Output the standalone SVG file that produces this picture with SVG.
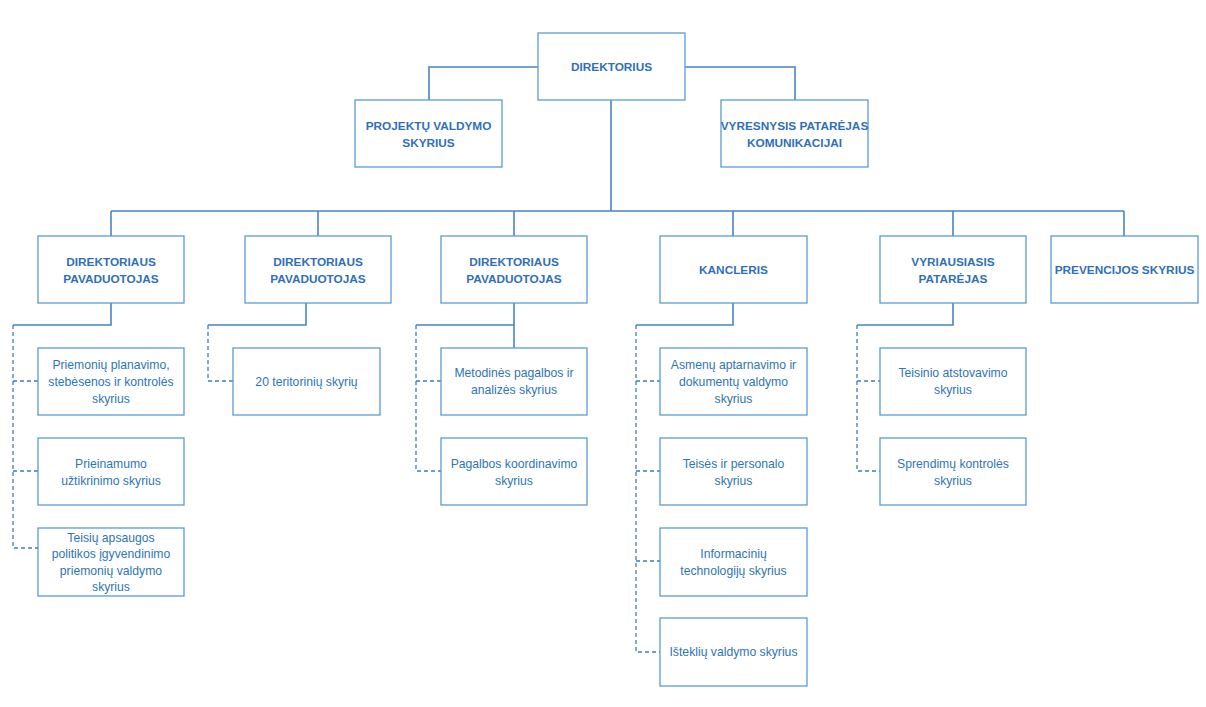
<svg xmlns="http://www.w3.org/2000/svg" width="1206" height="707" viewBox="0 0 1206 707">
<style>
.box{fill:#fff;stroke:#5b9bd5;stroke-width:1.3}
.t{font-family:"Liberation Sans",Arial,sans-serif;font-size:12.2px;fill:#2e75b6;text-anchor:middle}
.b{font-weight:bold;font-size:11.8px;fill:#2f6fb8}
.s{fill:none;stroke:#4a84c4;stroke-width:1.6}
.d{fill:none;stroke:#3f7bc0;stroke-width:1.3;stroke-dasharray:4 3}
</style>
<rect width="1206" height="707" fill="#fff"/>
<g id="connectors">
<path class="s" d="M538 67H429V100M685 67H795V100"/>
<path class="s" d="M611 100V211" stroke-width="2.2"/>
<path class="s" d="M111 211H1124M111 211V236M318 211V236M514 211V236M733 211V236M953 211V236M1124 211V236"/>
<path class="s" d="M111 303V325H13"/>
<path class="d" d="M13 325V548H38M13 381H38M13 471H38"/>
<path class="s" d="M306 303V325H208"/>
<path class="d" d="M208 325V381H233"/>
<path class="s" d="M514 303V348M514 325H416"/>
<path class="d" d="M416 325V471H441M416 381H441"/>
<path class="s" d="M733 303V325H636"/>
<path class="d" d="M636 325V652H660M636 381H660M636 471H660M636 561H660"/>
<path class="s" d="M953 303V325H857"/>
<path class="d" d="M857 325V471H880M857 381H880"/>
</g>
<g id="direktorius"><rect class="box" x="538" y="33" width="147" height="67"/><text class="t b" x="611.5" y="71">DIREKTORIUS</text></g>
<g id="projektu"><rect class="box" x="355" y="100" width="147" height="67"/><text class="t b" x="428.5" y="130">PROJEKTŲ VALDYMO</text><text class="t b" x="428.5" y="147">SKYRIUS</text></g>
<g id="vyresnysis"><rect class="box" x="721" y="100" width="147" height="67"/><text class="t b" x="794.5" y="130">VYRESNYSIS PATARĖJAS</text><text class="t b" x="794.5" y="147">KOMUNIKACIJAI</text></g>
<g id="pav1"><rect class="box" x="38" y="236" width="146" height="67"/><text class="t b" x="111" y="266">DIREKTORIAUS</text><text class="t b" x="111" y="283">PAVADUOTOJAS</text></g>
<g id="pav2"><rect class="box" x="245" y="236" width="146" height="67"/><text class="t b" x="318" y="266">DIREKTORIAUS</text><text class="t b" x="318" y="283">PAVADUOTOJAS</text></g>
<g id="pav3"><rect class="box" x="441" y="236" width="146" height="67"/><text class="t b" x="514" y="266">DIREKTORIAUS</text><text class="t b" x="514" y="283">PAVADUOTOJAS</text></g>
<g id="kancleris"><rect class="box" x="660" y="236" width="147" height="67"/><text class="t b" x="733.5" y="274">KANCLERIS</text></g>
<g id="vyriausiasis"><rect class="box" x="880" y="236" width="146" height="67"/><text class="t b" x="953" y="266">VYRIAUSIASIS</text><text class="t b" x="953" y="283">PATARĖJAS</text></g>
<g id="prevencijos"><rect class="box" x="1051" y="236" width="147" height="67"/><text class="t b" x="1124.5" y="274">PREVENCIJOS SKYRIUS</text></g>
<g id="c1a"><rect class="box" x="38" y="348" width="146" height="67"/><text class="t" x="111" y="369">Priemonių planavimo,</text><text class="t" x="111" y="386">stebėsenos ir kontrolės</text><text class="t" x="111" y="403">skyrius</text></g>
<g id="c1b"><rect class="box" x="38" y="438" width="146" height="67"/><text class="t" x="111" y="468">Prieinamumo</text><text class="t" x="111" y="485">užtikrinimo skyrius</text></g>
<g id="c1c"><rect class="box" x="38" y="528" width="146" height="68"/><text class="t" x="111" y="542">Teisių apsaugos</text><text class="t" x="111" y="558">politikos įgyvendinimo</text><text class="t" x="111" y="575">priemonių valdymo</text><text class="t" x="111" y="591">skyrius</text></g>
<g id="c2a"><rect class="box" x="233" y="348" width="147" height="67"/><text class="t" x="306.5" y="386">20 teritorinių skyrių</text></g>
<g id="c3a"><rect class="box" x="441" y="348" width="146" height="67"/><text class="t" x="514" y="377">Metodinės pagalbos ir</text><text class="t" x="514" y="394">analizės skyrius</text></g>
<g id="c3b"><rect class="box" x="441" y="438" width="146" height="67"/><text class="t" x="514" y="468">Pagalbos koordinavimo</text><text class="t" x="514" y="485">skyrius</text></g>
<g id="c4a"><rect class="box" x="660" y="348" width="147" height="67"/><text class="t" x="733.5" y="369">Asmenų aptarnavimo ir</text><text class="t" x="733.5" y="386">dokumentų valdymo</text><text class="t" x="733.5" y="403">skyrius</text></g>
<g id="c4b"><rect class="box" x="660" y="438" width="147" height="67"/><text class="t" x="733.5" y="468">Teisės ir personalo</text><text class="t" x="733.5" y="485">skyrius</text></g>
<g id="c4c"><rect class="box" x="660" y="528" width="147" height="68"/><text class="t" x="733.5" y="558">Informacinių</text><text class="t" x="733.5" y="575">technologijų skyrius</text></g>
<g id="c4d"><rect class="box" x="660" y="618" width="147" height="68"/><text class="t" x="733.5" y="656">Išteklių valdymo skyrius</text></g>
<g id="c5a"><rect class="box" x="880" y="348" width="146" height="67"/><text class="t" x="953" y="377">Teisinio atstovavimo</text><text class="t" x="953" y="394">skyrius</text></g>
<g id="c5b"><rect class="box" x="880" y="438" width="146" height="67"/><text class="t" x="953" y="468">Sprendimų kontrolės</text><text class="t" x="953" y="485">skyrius</text></g>
</svg>
